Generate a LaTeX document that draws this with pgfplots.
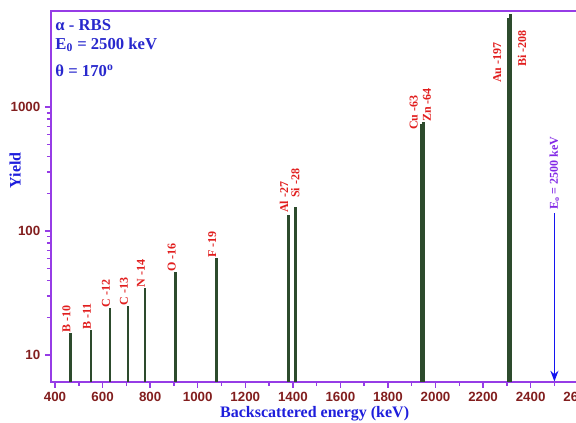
\documentclass[border=0pt]{standalone}
\usepackage{fontspec}
\setmainfont{Liberation Serif}
\newfontfamily\arialfont{Liberation Sans}
\usepackage{pgfplots}
\pgfplotsset{compat=1.18}
\usetikzlibrary{arrows.meta}

\definecolor{axispurple}{RGB}{150,60,230}
\definecolor{tickred}{RGB}{130,30,30}
\definecolor{labelblue}{RGB}{30,30,220}
\definecolor{infoblue}{RGB}{40,40,205}
\definecolor{peakgreen}{RGB}{45,75,45}
\definecolor{peakred}{RGB}{225,30,30}
\definecolor{eviolet}{RGB}{130,40,230}
\definecolor{arrowblue}{RGB}{20,20,240}

% peak positions (keV) and yields
\pgfplotstableread{
E     Y
465   15
551   16
631   24
707   25
778   35
907   47
1078  61
1382  135
1412  157
1942  735
1950  760
2306  5250
2316  5650
}\peaks

\newcommand{\pk}{\bfseries\fontsize{9}{9}\selectfont}

\begin{document}
\begin{tikzpicture}
\path[use as bounding box] (-38.25pt,-30.75pt) rectangle (393.75pt,286.5pt);
\clip (-38.25pt,-30.75pt) rectangle (393.75pt,286.5pt);
\begin{axis}[
  at={(0,0)}, anchor=south west,
  scale only axis,
  width=395.4pt, height=278.5pt,
  ymode=log,
  xmin=383, xmax=2600,
  ymin=6.06, ymax=6000,
  xtick={400,600,...,2600},
  minor x tick num=1,
  ytick={10,100,1000},
  yticklabels={10,100,1000},
  tick pos=left,
  tick align=outside,
  major tick length=4.5pt,
  minor tick length=3pt,
  axis line style={axispurple, line width=1.5pt},
  every tick/.style={axispurple, line width=1.1pt},
  /pgf/number format/1000 sep={},
  /pgf/number format/assume math mode=true,
  ticklabel style={font=\arialfont\bfseries\fontsize{10}{12}\selectfont, text=tickred},
  xlabel={Backscattered energy (keV)},
  ylabel={Yield},
  label style={font=\bfseries\fontsize{12}{14}\selectfont, text=labelblue},
  xlabel style={at={(axis description cs:0.5,-0.086)}, anchor=center},
  ylabel style={at={(axis description cs:-0.068,0.57)}, anchor=center, rotate=0},
]
\addplot[ycomb, peakgreen, line width=1.9pt] table[x=E, y=Y] {\peaks};

\addplot[arrowblue, line width=1.3pt, -{Stealth[length=8pt,width=6pt]}]
  coordinates {(2500,139) (2500,6.12)};

% peak labels
\begin{scope}[every node/.style={rotate=90, anchor=west, inner sep=0pt, text=peakred, font=\pk}]
\node[yshift=3pt] at (axis cs:465,15) {B -10};
\node[yshift=3pt] at (axis cs:551,16) {B -11};
\node[yshift=3pt] at (axis cs:631,24) {C -12};
\node[yshift=3pt] at (axis cs:707,25) {C -13};
\node[yshift=3pt] at (axis cs:778,35) {N -14};
\node[yshift=3pt] at (axis cs:907,47) {O -16};
\node[yshift=3pt] at (axis cs:1078,61) {F -19};
\node at (axis cs:1363,140) {Al -27};
\node at (axis cs:1410,184) {Si -28};
\node at (axis cs:1908,653) {Cu -63};
\node at (axis cs:1964,757) {Zn -64};
\node at (axis cs:2259,1563) {Au -197};
\node at (axis cs:2364,2104) {Bi -208};
\end{scope}

\node[rotate=90, anchor=west, inner sep=0pt, text=eviolet, font=\bfseries\fontsize{9}{9}\selectfont]
  at (axis cs:2500,148) {E\textsubscript{o} = 2500 keV};

% run conditions
\begin{scope}[every node/.style={anchor=west, inner sep=0pt, text=infoblue, font=\bfseries\fontsize{12.5}{14}\selectfont}]
\node at (axis description cs:0.008,0.961) {α - RBS};
\node at (axis description cs:0.008,0.908) {E\textsubscript{0} = 2500 keV};
\node at (axis description cs:0.008,0.838) {θ = 170\textsuperscript{o}};
\end{scope}
\end{axis}
\end{tikzpicture}
\end{document}
